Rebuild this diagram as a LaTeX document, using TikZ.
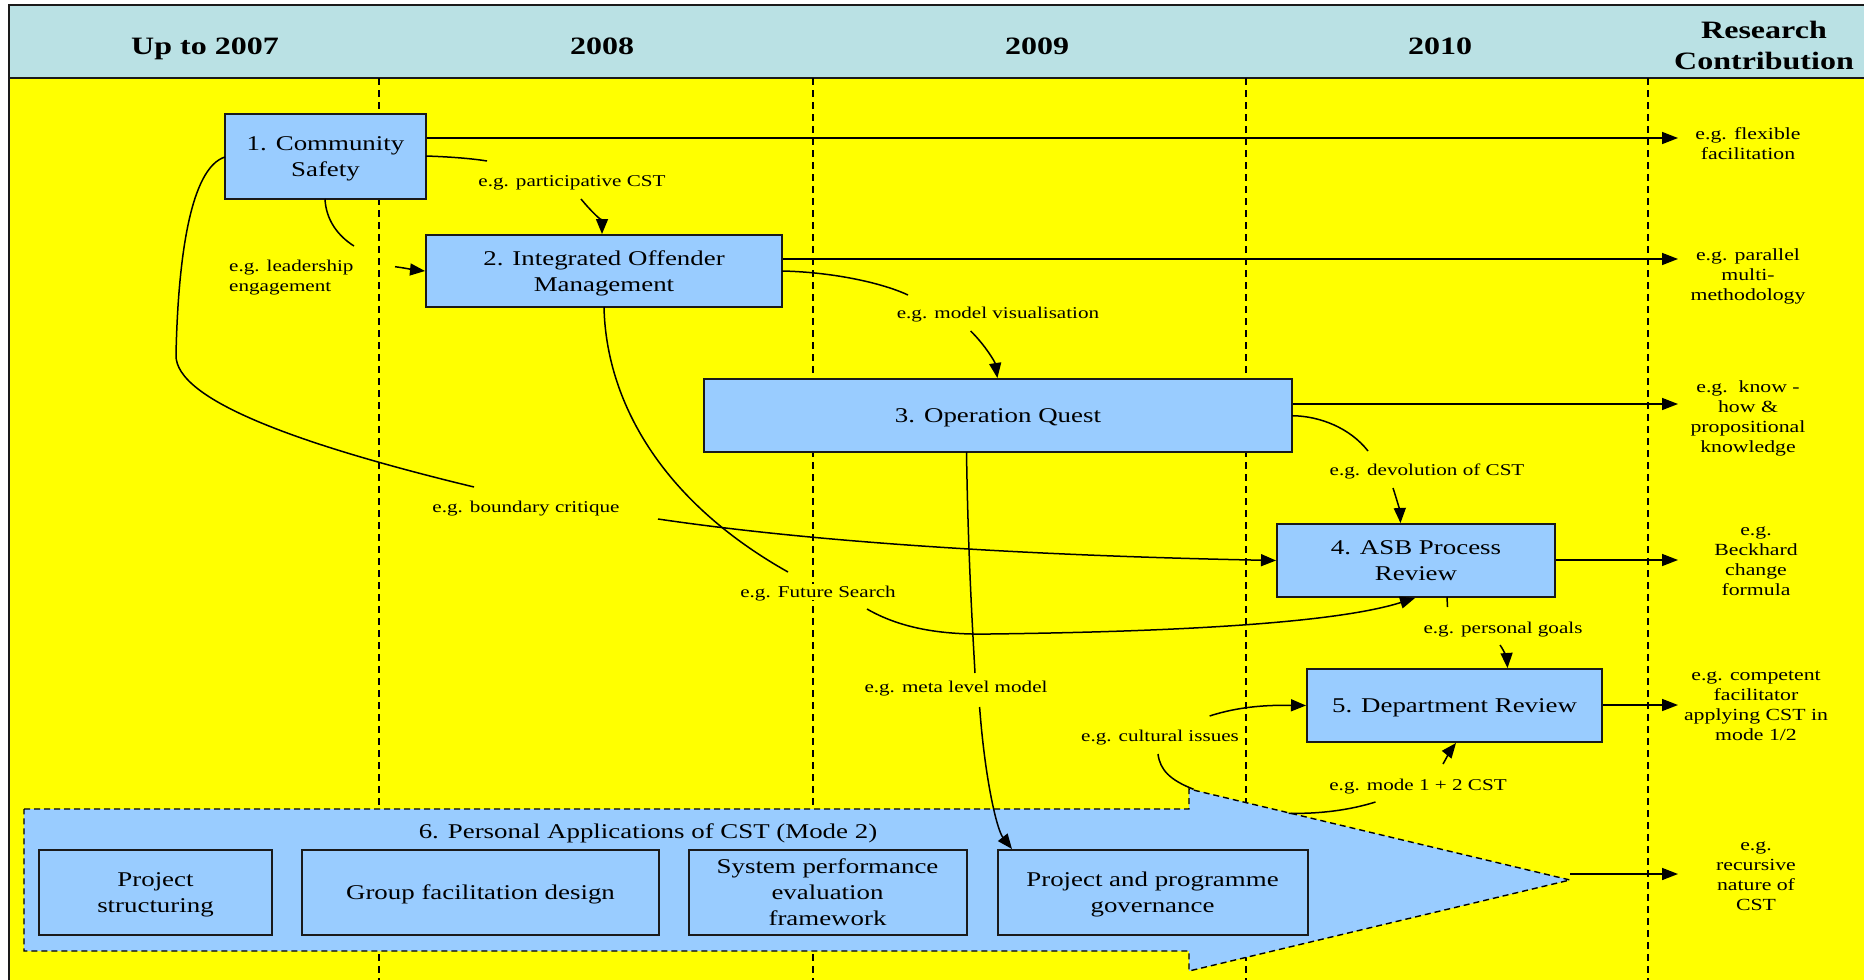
\documentclass[tikz,border=0pt]{standalone}
\usepackage{fontspec}
\setmainfont[FakeStretch=1.28]{Liberation Serif}
\usetikzlibrary{arrows.meta}

\definecolor{bodyyellow}{HTML}{FFFF00}
\definecolor{headcyan}{HTML}{BAE1E4}
\definecolor{boxblue}{HTML}{99CCFF}
\definecolor{inkline}{HTML}{1A1A1A}

\tikzset{
  phase/.style={draw=inkline, line width=2pt, fill=boxblue, inner sep=0pt,
    text depth=0pt, align=center, font=\fontsize{21}{26}\selectfont},
  subbox/.style={phase},
  cue/.style={fill=bodyyellow, inner sep=2pt, text depth=0pt,
    font=\fontsize{16.5}{20}\selectfont},
  outcome/.style={inner sep=0pt, text depth=0pt, align=center,
    font=\fontsize{17}{20}\selectfont},
  yearhead/.style={inner sep=0pt, text depth=0pt, align=center,
    font=\fontsize{25}{31}\selectfont\bfseries},
  link/.style={line width=1.5pt, draw=black},
  linkto/.style={link, -{Triangle[length=15pt,width=12pt]}},
  feed/.style={line width=1.6pt, -{Triangle[length=16pt,width=12pt]}},
  yeardiv/.style={line width=1.3pt, dash pattern=on 7pt off 5pt},
}

\begin{document}
\begin{tikzpicture}[x=1pt,y=-1pt]
\useasboundingbox (0,0) rectangle (1864,980);

% background bands
\fill[bodyyellow] (9,78) rectangle (1864,980);
\fill[headcyan] (9,5) rectangle (1864,78);
\draw[inkline, line width=2pt] (1864,5) -- (9,5) -- (9,980);
\draw[inkline, line width=2pt] (9,78) -- (1864,78);

% column headings
\node[yearhead] (h0) at (205,46) {Up to 2007};
\node[yearhead] (h1) at (602,46) {2008};
\node[yearhead] (h2) at (1037,46) {2009};
\node[yearhead] (h3) at (1440,46) {2010};
\node[yearhead] (h4) at (1764,45.5) {Research\\Contribution};

% year dividers
\foreach \xx in {379,813,1246,1648}
  \draw[yeardiv] (\xx,78) -- (\xx,980);

% personal applications arrow
\draw[fill=boxblue, line width=1.4pt, dash pattern=on 6pt off 4pt]
  (24,809) -- (1189,809) -- (1189,789) -- (1570,880) -- (1189,971)
  -- (1189,951) -- (24,951) -- cycle;
\node[inner sep=0pt, text depth=0pt, font=\fontsize{21}{26}\selectfont] (t6) at (648,831)
  {6. Personal Applications of CST (Mode 2)};
\node[subbox, minimum width=233pt, minimum height=85pt] (s1) at (155.5,892.5) {Project\\structuring};
\node[subbox, minimum width=357pt, minimum height=85pt] (s2) at (480.5,892.5) {Group facilitation design};
\node[subbox, minimum width=278pt, minimum height=85pt] (s3) at (827.5,892.5) {System performance\\evaluation\\framework};
\node[subbox, minimum width=310pt, minimum height=85pt] (s4) at (1152.5,892.5) {Project and programme\\governance};

% main interventions
\node[phase, minimum width=201pt, minimum height=85pt] (b1) at (325.5,156.5) {1. Community\\Safety};
\node[phase, minimum width=356pt, minimum height=72pt] (b2) at (604,271) {2. Integrated Offender\\Management};
\node[phase, minimum width=588pt, minimum height=73pt] (b3) at (998,415.5) {3. Operation Quest};
\node[phase, minimum width=278pt, minimum height=73pt] (b4) at (1416,560.5) {4. ASB Process\\Review};
\node[phase, minimum width=295pt, minimum height=73pt] (b5) at (1454.5,705.5) {5. Department Review};

% contributions
\node[outcome] (r1) at (1748,143.5) {e.g. flexible\\facilitation};
\node[outcome] (r2) at (1748,274.5) {e.g. parallel\\multi-\\methodology};
\node[outcome] (r3) at (1748,417) {e.g.\ \ know -\\how \&\\propositional\\knowledge};
\node[outcome] (r4) at (1756,560.7) {e.g.\\Beckhard\\change\\formula};
\node[outcome] (r5) at (1756,706) {e.g. competent\\facilitator\\applying CST in\\mode 1/2};
\node[outcome] (r6) at (1756,876) {e.g.\\recursive\\nature of\\CST};

\coordinate (e1) at (1678,138);
\coordinate (e2) at (1678,259);
\coordinate (e3) at (1678,404);
\coordinate (e4) at (1678,560);
\coordinate (e5) at (1678,705);
\coordinate (e6) at (1678,874);
\draw[feed] (b1.east |- e1) -- (e1);
\draw[feed] (b2.east |- e2) -- (e2);
\draw[feed] (b3.east |- e3) -- (e3);
\draw[feed] (b4.east |- e4) -- (e4);
\draw[feed] (b5.east |- e5) -- (e5);
\coordinate (tip6) at (1570,874);
\draw[feed] (tip6) -- (e6);

% transfer labels
\node[cue] (l1) at (572,181) {e.g. participative CST};
\node[cue, align=left, anchor=west] (l2) at (227,276) {e.g. leadership\\engagement};
\node[cue] (l3) at (998,313) {e.g. model visualisation};
\node[cue] (l4) at (1427,470) {e.g. devolution of CST};
\node[cue] (l5) at (526,507) {e.g. boundary critique};
\node[cue] (l6) at (818,592) {e.g. Future Search};
\node[cue] (l7) at (956,687) {e.g. meta level model};
\node[cue] (l8) at (1503,628) {e.g. personal goals};
\node[cue] (l9) at (1160,736) {e.g. cultural issues};
\node[cue] (l10) at (1418,785) {e.g. mode 1 + 2 CST};

% 1 -> 2 participative CST
\coordinate (a1s) at (426,156);
\coordinate (a1m) at (487,161);
\coordinate (a1n) at (581,199);
\draw[link] (a1s) .. controls (455,157) and (475,159) .. (a1m);
\draw[linkto] (a1n) .. controls (590,210) and (602,222) .. (b2.north -| 602,0);

% 1 -> 2 leadership engagement
\coordinate (a2s) at (325,199);
\coordinate (a2m) at (354,246);
\coordinate (a2n) at (395,266.7);
\draw[link] (a2s) .. controls (326,220) and (338,236) .. (a2m);
\draw[linkto] (a2n) .. controls (405,268) and (415,270) .. (b2.west);

% 2 -> 3 model visualisation
\coordinate (a3s) at (782,271);
\coordinate (a3m) at (908,295);
\coordinate (a3n) at (970.6,331);
\draw[link] (a3s) .. controls (830,272) and (880,282) .. (a3m);
\draw[linkto] (a3n) .. controls (985,345) and (995,362) .. (b3.north -| 997.4,0);

% 3 -> 4 devolution of CST
\coordinate (a4s) at (1292,415.7);
\coordinate (a4m) at (1368,451);
\coordinate (a4n) at (1393,488);
\draw[link] (a4s) .. controls (1320,416) and (1350,428) .. (a4m);
\draw[linkto] (a4n) .. controls (1397,500) and (1400,512) .. (b4.north -| 1400.5,0);

% 1 -> 4 boundary critique
\coordinate (a5s) at (225,157);
\coordinate (a5b) at (176,355);
\coordinate (a5m) at (474,487);
\coordinate (a5n) at (658,519);
\draw[link] (a5s) .. controls (190,168) and (178,260) .. (a5b)
  .. controls (175,400) and (300,445) .. (a5m);
\draw[linkto] (a5n) .. controls (800,540) and (1000,555) .. (b4.west);

% 2 -> 4 Future Search
\coordinate (a6s) at (604,307);
\coordinate (a6m) at (788,572);
\coordinate (a6n) at (867,609);
\coordinate (a6b) at (990,634);
\draw[link] (a6s) .. controls (606,400) and (660,500) .. (a6m);
\draw[linkto] (a6n) .. controls (900,628) and (940,635) .. (a6b)
  .. controls (1150,632) and (1330,625) .. (b4.south -| 1415,0);

% 3 -> 6 meta level model
\coordinate (a7s) at (966.5,452);
\coordinate (a7m) at (975,673);
\coordinate (a7n) at (979.6,707);
\draw[link] (a7s) .. controls (968,550) and (972,620) .. (a7m);
\draw[linkto] (a7n) .. controls (985,780) and (997,830) .. (s4.north -| 1012,0);

% 4 -> 5 personal goals
\coordinate (a8s) at (1447,597);
\coordinate (a8m) at (1447.5,607);
\coordinate (a8n) at (1500,645);
\draw[link] (a8s) -- (a8m);
\draw[linkto] (a8n) .. controls (1505,652) and (1507,660) .. (b5.north -| 1507.5,0);

% 6 -> 5 cultural issues
\coordinate (a9s) at (1193.6,789.3);
\coordinate (a9m) at (1158,754);
\coordinate (a9n) at (1209.6,716);
\draw[link] (a9s) .. controls (1170,780) and (1160,770) .. (a9m);
\draw[linkto] (a9n) .. controls (1240,706) and (1270,705) .. (b5.west);

% 6 -> 5 mode 1 + 2 CST
\coordinate (a10s) at (1288.7,813.3);
\coordinate (a10m) at (1375.5,802);
\coordinate (a10n) at (1443,764);
\draw[link] (a10s) .. controls (1320,814) and (1350,810) .. (a10m);
\draw[linkto] (a10n) .. controls (1448,755) and (1452,748) .. (b5.south -| 1456,0);
\end{tikzpicture}
\end{document}
